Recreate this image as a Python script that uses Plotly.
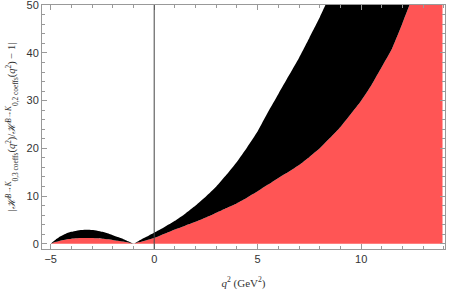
import plotly.graph_objects as go

# q^2 grid (GeV^2)
q2 = [-5, -4.75, -4.5, -4.25, -4, -3.75, -3.5, -3.25, -3, -2.75, -2.5, -2.25, -2, -1.75, -1.5, -1.25, -1,
      -0.75, -0.5, -0.25, 0, 0.5, 1, 1.5, 2, 2.5, 3, 3.5, 4, 4.5, 5, 5.5, 6, 6.5, 7, 7.5, 8, 8.5, 9,
      9.5, 10, 10.5, 11, 11.5, 12, 12.5, 13, 13.93]
# lower band edge (red top)
lower = [0, 0.4, 0.7, 0.9, 1.05, 1.15, 1.2, 1.22, 1.2, 1.13, 1.05, 0.93, 0.8, 0.63, 0.45, 0.25, 0.0,
         0.3, 0.6, 0.9, 1.2, 2.1, 3.0, 3.8, 4.6, 5.5, 6.5, 7.5, 8.5, 9.7, 11, 12.4, 13.8, 15.1, 16.5, 18.2, 20, 22.2, 24.5,
         27.2, 30, 33.3, 37.1, 41, 46.3, 52, 58, 66]
# upper band edge (black top)
upper = [0, 0.9, 1.6, 2.15, 2.5, 2.75, 2.9, 2.95, 2.9, 2.75, 2.5, 2.2, 1.8, 1.4, 1.0, 0.5, 0.0,
         0.6, 1.2, 1.75, 2.3, 3.5, 4.8, 6.3, 8.0, 9.9, 12.0, 14.5, 17.2, 20.3, 23.6, 27.6, 31.4, 35.2, 39, 43.2, 47.5, 52.2, 57,
         62.5, 68, 74, 80, 86.5, 93, 100, 107, 120]

red = "rgb(255,85,85)"
fig = go.Figure()
fig.add_trace(go.Scatter(x=q2, y=lower, mode="lines",
                         line=dict(width=0, color=red, shape="spline", smoothing=0.4),
                         fill="tozeroy", fillcolor=red, hoverinfo="skip"))
fig.add_trace(go.Scatter(x=q2, y=upper, mode="lines",
                         line=dict(width=0, color="black", shape="spline", smoothing=0.4),
                         fill="tonexty", fillcolor="black", hoverinfo="skip"))

fig.add_shape(type="line", x0=0, x1=0, y0=0, y1=1, xref="x", yref="paper",
              line=dict(color="#444444", width=1), layer="above")

axcommon = dict(showline=True, linecolor="#999999", linewidth=1, mirror="allticks",
                ticks="inside", tickcolor="#999999", ticklen=5, showgrid=False, zeroline=False,
                automargin=False, ticklabeloverflow="allow",
                tickfont=dict(family="Liberation Sans, Arial, sans-serif", size=11, color="#333333"))

fig.update_layout(
    width=452, height=290,
    margin=dict(l=42, r=7, t=5, b=41),
    plot_bgcolor="white", paper_bgcolor="white",
    showlegend=False,
    xaxis=dict(range=[-5.42, 14.05], tickvals=[-5, 0, 5, 10], ticktext=["\u22125", "0", "5", "10"],
               minor=dict(ticks="inside", dtick=1, tick0=0, ticklen=3, tickcolor="#999999"),
               title=dict(text="<i>q</i><sup>2</sup> (GeV<sup>2</sup>)", standoff=16,
                          font=dict(family="Liberation Serif, Times New Roman, serif", size=11, color="#333333")),
               **axcommon),
    yaxis=dict(range=[-1.1, 50.05], tickvals=[0, 10, 20, 30, 40, 50],
               minor=dict(ticks="inside", dtick=2, tick0=0, ticklen=3, tickcolor="#999999"),
               title=dict(text="|<i>\u210b</i><sup><i>B</i>\u2192<i>K</i></sup><sub>0,3 coeffs</sub>(<i>q</i><sup>2</sup>)/<i>\u210b</i><sup><i>B</i>\u2192<i>K</i></sup><sub>0,2 coeffs</sub>(<i>q</i><sup>2</sup>) \u2212 1|",
                          standoff=8,
                          font=dict(family="Liberation Serif, Times New Roman, serif", size=10.5, color="#333333")),
               **axcommon),
)

fig.write_html("out.html", config={"displayModeBar": False},
               post_script="document.body.style.margin='0';")
